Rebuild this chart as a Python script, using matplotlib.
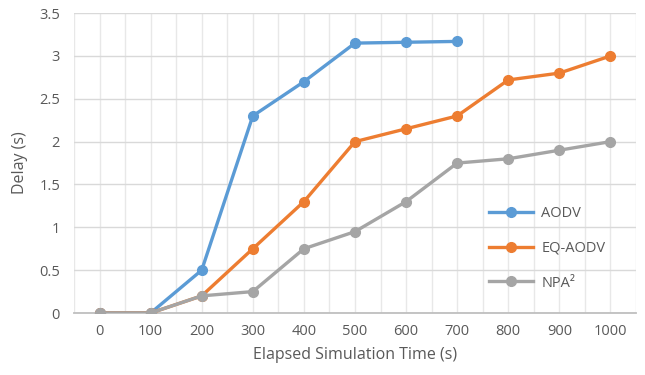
import matplotlib
matplotlib.use("Agg")
import matplotlib.pyplot as plt
import numpy as np

plt.rcParams['font.family'] = ['Open Sans', 'DejaVu Sans']

categories = ["0", "100", "200", "300", "400", "500", "600", "700", "800", "900", "1000"]
aodv = [0, 0, 0.5, 2.3, 2.7, 3.15, 3.16, 3.17]
eq_aodv = [0, 0, 0.2, 0.75, 1.3, 2.0, 2.15, 2.3, 2.72, 2.8, 3.0]
npa2 = [0, 0, 0.2, 0.25, 0.75, 0.95, 1.3, 1.75, 1.8, 1.9, 2.0]
y_ticks = [0, 0.5, 1, 1.5, 2, 2.5, 3, 3.5]

text_color = "#595959"
fig = plt.figure(figsize=(6.45, 3.75), dpi=100)
ax = fig.add_axes([0.1147, 0.1653, 0.8713, 0.7997])

x = np.arange(len(categories))
ax.plot(x[:len(aodv)], aodv, color="#5B9BD5", lw=2.4, marker="o", ms=7, label="AODV", zorder=3)
ax.plot(x, eq_aodv, color="#ED7D31", lw=2.4, marker="o", ms=7, label="EQ-AODV", zorder=4)
ax.plot(x, npa2, color="#A5A5A5", lw=2.4, marker="o", ms=7, label="NPA²", zorder=5)

ax.set_xlim(-0.5, len(categories) - 0.5)
ax.set_ylim(0, 3.5)
ax.set_xticks(x)
ax.set_xticklabels(categories)
ax.set_xticks(np.arange(-0.5, len(categories), 1.0), minor=True)
ax.set_yticks(y_ticks)
ax.set_yticklabels([("%g" % v) for v in y_ticks])

ax.grid(axis="y", which="major", color="#D9D9D9", lw=1.0, zorder=0)
ax.grid(axis="x", which="both", color="#E8E8E8", lw=1.0, zorder=0)
ax.tick_params(axis="both", which="both", length=0, colors=text_color, labelsize=10.5)
ax.tick_params(axis="x", pad=8)
ax.tick_params(axis="y", pad=10)
for s in ["top", "right", "left"]:
    ax.spines[s].set_visible(False)
ax.spines["bottom"].set_color("#BFBFBF")
ax.spines["bottom"].set_linewidth(1.3)
ax.set_axisbelow(True)

ax.set_xlabel("Elapsed Simulation Time (s)", color=text_color, fontsize=11.5, labelpad=6)
ax.set_ylabel("Delay (s)", color=text_color, fontsize=11.5, labelpad=8)

leg = ax.legend(loc="upper left", bbox_to_anchor=(0.715, 0.40), frameon=False,
                fontsize=10.5, labelspacing=1.35, handlelength=3.0, handletextpad=0.6)
for t in leg.get_texts():
    t.set_color(text_color)

fig.savefig("out.png", dpi=100)
